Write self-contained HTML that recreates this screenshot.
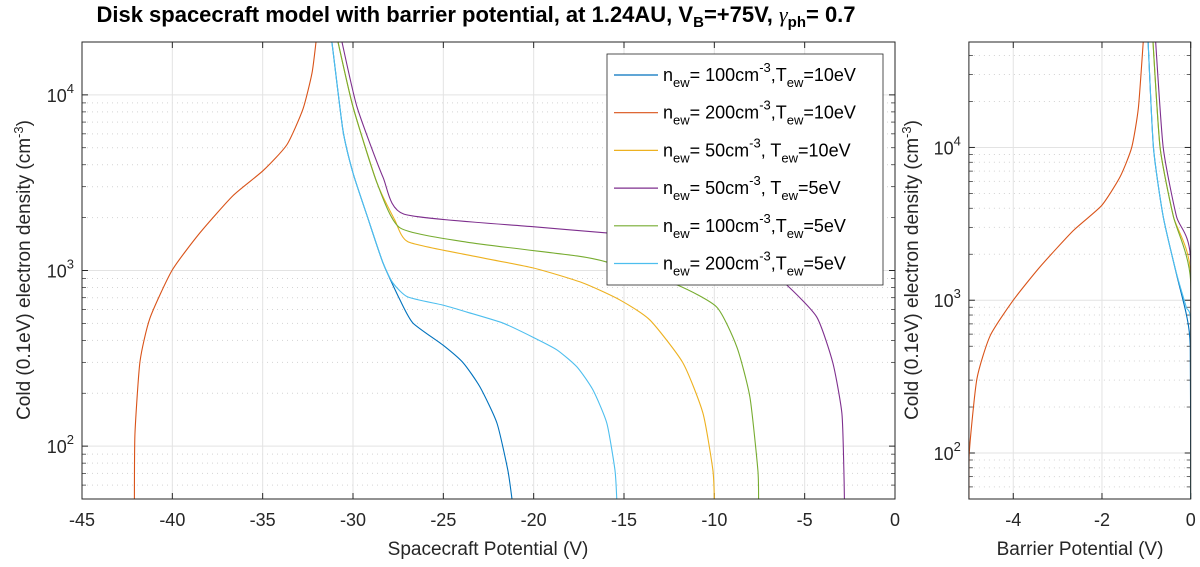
<!DOCTYPE html>
<html><head><meta charset="utf-8"><style>
html,body{margin:0;padding:0;background:#fff;}
svg{display:block;font-family:"Liberation Sans",Arial,sans-serif;}
</style></head><body>
<svg id="c" width="1200" height="567" viewBox="0 0 1200 567" xmlns="http://www.w3.org/2000/svg">
<defs>
<clipPath id="clipA"><rect x="82" y="42" width="813" height="457"/></clipPath>
<clipPath id="clipB"><rect x="968.9" y="42" width="221.8" height="457"/></clipPath>
</defs>
<text x="476" y="22" text-anchor="middle" font-size="22" font-weight="bold">Disk spacecraft model with barrier potential, at 1.24AU, V<tspan font-size="15" dy="5">B</tspan><tspan dy="-5">=+75V, </tspan><tspan font-family="Liberation Serif" font-style="italic" font-weight="normal">γ</tspan><tspan font-size="15" dy="5">ph</tspan><tspan dy="-5">= 0.7</tspan></text>
<g id="gA"></g>
<g id="gB"></g>
<text transform="translate(30,270) rotate(-90)" text-anchor="middle" font-size="19" fill="#262626">Cold (0.1eV) electron density (cm<tspan font-size="13" dy="-7">-3</tspan><tspan dy="7">)</tspan></text>
<text transform="translate(918,270) rotate(-90)" text-anchor="middle" font-size="19" fill="#262626">Cold (0.1eV) electron density (cm<tspan font-size="13" dy="-7">-3</tspan><tspan dy="7">)</tspan></text>
<text x="488" y="555" text-anchor="middle" font-size="19" fill="#262626">Spacecraft Potential (V)</text>
<text x="1080" y="555" text-anchor="middle" font-size="19" fill="#262626">Barrier Potential (V)</text>
<g id="legend"></g>
</svg>
<script>
const seriesNames=["n100T10","n200T10","n50T10","n50T5","n100T5","n200T5"];
const colors=["#0072BD","#D95319","#EDB120","#7E2F8E","#77AC30","#4DBEEE"];
const mainXTicks=[-45,-40,-35,-30,-25,-20,-15,-10,-5,0];
const mainYTicks=[2,3,4];
const barXTicks=[-4,-2,0];
const barYTicks=[2,3,4];
// main plot: [potential V, density cm^-3]
const mainBlue=[[-31.3,21000],[-31.17,20000],[-30.56,6320],[-30.0,3590],[-29.2,2020],[-28.34,1105],[-27.4,680],[-26.68,502],[-25.02,376],[-23.9,298],[-22.97,217],[-22.03,135],[-21.43,73],[-21.2,50]];
const mainRed=[[-42.1,50],[-42.07,117],[-41.79,303],[-41.24,535],[-40.02,1000],[-38.47,1640],[-36.64,2670],[-34.98,3700],[-33.66,5200],[-32.77,8300],[-32.27,13300],[-32.05,19900]];
const mainYellow=[[-30.83,20000],[-30.0,8550],[-28.67,3150],[-27.7,1950],[-26.96,1458],[-23.7,1228],[-20.04,1035],[-17.27,849],[-15.23,680],[-13.57,523],[-11.74,298],[-10.63,154],[-10.08,73],[-10.0,50]];
const mainPurple=[[-30.61,20000],[-29.78,8550],[-28.34,3400],[-27.18,2095],[-20.04,1775],[-15.95,1637],[-12,1510],[-9,1327],[-7.5,1078],[-6.0,828],[-4.33,543],[-3.44,298],[-2.94,154],[-2.83,73],[-2.8,50]];
const mainGreen=[[-30.83,20000],[-30.0,8550],[-28.67,3150],[-27.4,1750],[-23.7,1450],[-17.6,1210],[-15.95,1117],[-12.07,828],[-9.86,618],[-8.75,366],[-8.03,190],[-7.59,73],[-7.55,50]];
const mainLight=[[-31.3,21000],[-31.17,20000],[-30.56,6320],[-30.0,3590],[-29.2,2020],[-28.34,1105],[-27.79,849],[-26.96,706],[-25.02,635],[-23.7,580],[-21.7,502],[-20.04,417],[-18.71,353],[-17.6,282],[-16.72,209],[-15.95,135],[-15.5,73],[-15.4,50]];
// barrier plot
const barBlue=[[-0.96,49000],[-0.84,10000],[-0.62,3530],[-0.32,1480],[-0.10,813],[-0.01,498],[0,50]];
const barRed=[[-5.0,50],[-4.99,102],[-4.82,305],[-4.52,586],[-4.0,1000],[-3.4,1650],[-2.65,2850],[-2.01,4160],[-1.59,6440],[-1.33,10000],[-1.18,18100],[-1.07,49000]];
const barYellow=[[-0.85,49000],[-0.69,10000],[-0.39,3530],[0,1500],[0,50]];
const barPurple=[[-0.79,49000],[-0.62,10000],[-0.32,3530],[0,1840],[0,50]];
const barGreen=[[-0.85,49000],[-0.69,10000],[-0.39,3530],[0,1330],[0,50]];
const barLight=[[-0.96,49000],[-0.84,10000],[-0.62,3530],[-0.32,1500],[-0.1,900],[0,690],[0,50]];
const mainData=[mainBlue,mainRed,mainYellow,mainPurple,mainGreen,mainLight];
const barData=[barBlue,barRed,barYellow,barPurple,barGreen,barLight];
const legendLabels=[["100cm","-3",",T","=10eV"],["200cm","-3",",T","=10eV"],["50cm","-3",", T","=10eV"],["50cm","-3",", T","=5eV"],["100cm","-3",",T","=5eV"],["200cm","-3",",T","=5eV"]];

const NS="http://www.w3.org/2000/svg";
function mk(tag,attrs,parent){const e=document.createElementNS(NS,tag);for(const k in attrs)e.setAttribute(k,attrs[k]);parent.appendChild(e);return e;}
function smoothPath(pts){
  let d='M'+pts[0][0].toFixed(2)+','+pts[0][1].toFixed(2);
  for(let i=0;i<pts.length-1;i++){
    const p0=pts[Math.max(0,i-1)],p1=pts[i],p2=pts[i+1],p3=pts[Math.min(pts.length-1,i+2)];
    const t=0.1;
    const c1=[p1[0]+(p2[0]-p0[0])*t,p1[1]+(p2[1]-p0[1])*t];
    const c2=[p2[0]-(p3[0]-p1[0])*t,p2[1]-(p3[1]-p1[1])*t];
    d+=' C'+c1[0].toFixed(2)+','+c1[1].toFixed(2)+' '+c2[0].toFixed(2)+','+c2[1].toFixed(2)+' '+p2[0].toFixed(2)+','+p2[1].toFixed(2);
  }
  return d;
}
function drawAxes(g,ax,data,xt,yt,clip,prefix){
  const X=v=>ax.x0+(v-ax.xmin)/(ax.xmax-ax.xmin)*(ax.x1-ax.x0);
  const Y=v=>ax.y1-(Math.log10(v)-Math.log10(ax.ymin))/(Math.log10(ax.ymax)-Math.log10(ax.ymin))*(ax.y1-ax.y0);
  for(let d=1;d<=4;d++)for(let m=2;m<=9;m++){const v=m*Math.pow(10,d);if(v<ax.ymin||v>ax.ymax)continue;const y=Y(v);
    const l=mk('line',{x1:ax.x0,x2:ax.x1,y1:y,y2:y,stroke:'#d4d4d4','stroke-width':1,'stroke-dasharray':'1 4'},g);
    
    
    mk('line',{x1:ax.x0,x2:ax.x0+4,y1:y,y2:y,stroke:'#262626','stroke-width':0.7},g);
    mk('line',{x1:ax.x1,x2:ax.x1-4,y1:y,y2:y,stroke:'#262626','stroke-width':0.7},g);}
  xt.forEach(v=>{const x=X(v);
    const l=mk('line',{x1:x,x2:x,y1:ax.y0,y2:ax.y1,stroke:'#e3e3e3','stroke-width':1},g);
    
    
    mk('line',{x1:x,x2:x,y1:ax.y1,y2:ax.y1-6,stroke:'#262626','stroke-width':1},g);
    mk('line',{x1:x,x2:x,y1:ax.y0,y2:ax.y0+6,stroke:'#262626','stroke-width':1},g);
    const t=mk('text',{x:x,y:ax.y1+27,'text-anchor':'middle','font-size':18,fill:'#262626'},g);t.textContent=String(v);
    
    });
  yt.forEach(d=>{const y=Y(Math.pow(10,d));
    const l=mk('line',{x1:ax.x0,x2:ax.x1,y1:y,y2:y,stroke:'#e3e3e3','stroke-width':1},g);
    
    
    mk('line',{x1:ax.x0,x2:ax.x0+6,y1:y,y2:y,stroke:'#262626','stroke-width':1},g);
    mk('line',{x1:ax.x1,x2:ax.x1-6,y1:y,y2:y,stroke:'#262626','stroke-width':1},g);
    const t=mk('text',{x:ax.x0-8,y:y+7,'text-anchor':'end','font-size':18,fill:'#262626'},g);
    
    
    t.innerHTML='10<tspan font-size="13" dy="-9">'+d+'</tspan>';});
  const cg=mk('g',{'clip-path':'url(#'+clip+')'},g);
  data.forEach((s,i)=>{const p=mk('path',{d:smoothPath(s.map(q=>[X(q[0]),Y(q[1])])),fill:'none',stroke:colors[i],'stroke-width':1.1,'stroke-linejoin':'round'},cg);
    
    });
  const b=mk('rect',{x:ax.x0,y:ax.y0,width:ax.x1-ax.x0,height:ax.y1-ax.y0,fill:'none',stroke:'#262626','stroke-width':1},g);
  
  
}
drawAxes(document.getElementById('gA'),{x0:82,x1:895,y0:42,y1:499,xmin:-45,xmax:0,ymin:50,ymax:20000},mainData,mainXTicks,mainYTicks,'clipA','main');
drawAxes(document.getElementById('gB'),{x0:968.9,x1:1190.7,y0:42,y1:499,xmin:-5,xmax:0,ymin:50,ymax:49000},barData,barXTicks,barYTicks,'clipB','barrier');

const lg=document.getElementById('legend');
const lb=mk('rect',{x:607,y:54,width:276,height:231,fill:'#fff',stroke:'#262626','stroke-width':0.8},lg);


legendLabels.forEach((L,i)=>{const y=54+21+i*37.7;
  const e=mk('g',{},lg);
  
  
  mk('line',{x1:614,x2:658,y1:y,y2:y,stroke:colors[i],'stroke-width':1.2},e);
  const t=mk('text',{x:663,y:y+6,'font-size':18,fill:'#000'},e);
  t.innerHTML='n<tspan font-size="13" dy="6">ew</tspan><tspan dy="-6">= '+L[0]+'</tspan><tspan font-size="13" dy="-9">'+L[1]+'</tspan><tspan dy="9">'+L[2]+'</tspan><tspan font-size="13" dy="6">ew</tspan><tspan dy="-6">'+L[3]+'</tspan>';});
</script>
</body></html>
